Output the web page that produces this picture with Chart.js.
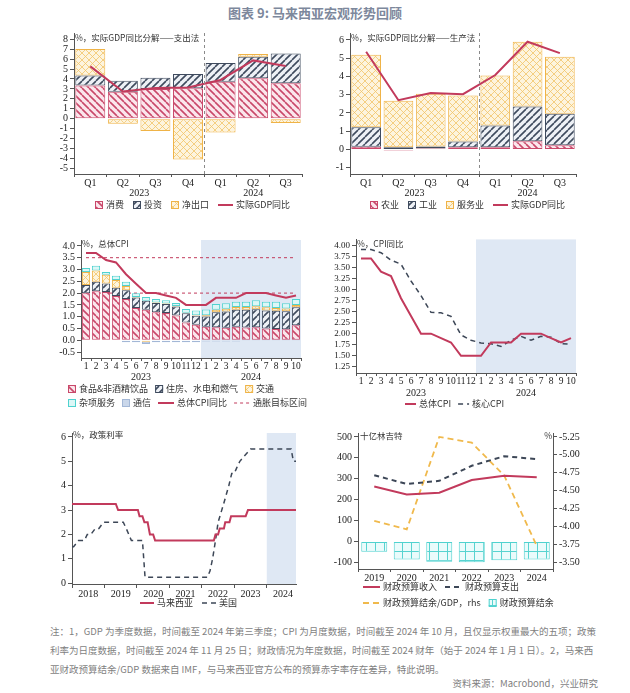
<!DOCTYPE html>
<html>
<head>
<meta charset="utf-8">
<script src="https://cdn.jsdelivr.net/npm/chart.js@4.4.1/dist/chart.umd.min.js"></script>
<style>
body { margin: 0; width: 630px; height: 693px; background: #fff; position: relative; overflow: hidden; font-family: "Noto Sans CJK SC", sans-serif; }
.title { position: absolute; left: 0; width: 630px; top: 3px; text-align: center; font-size: 13px; font-weight: bold; color: #7d889c; }
canvas { position: absolute; }
.note { position: absolute; left: 50px; font-size: 9.5px; color: #7f7f7f; white-space: nowrap; }
</style>
</head>
<body>
<div class="title">图表 9: 马来西亚宏观形势回顾</div>
<canvas id="c1" width="270" height="190" style="left:40px;top:25px"></canvas>
<canvas id="c2" width="270" height="190" style="left:330px;top:25px"></canvas>
<canvas id="c3" width="270" height="180" style="left:40px;top:232px"></canvas>
<canvas id="c4" width="270" height="180" style="left:330px;top:232px"></canvas>
<canvas id="c5" width="270" height="187" style="left:40px;top:425px"></canvas>
<canvas id="c6" width="270" height="187" style="left:330px;top:425px"></canvas>
<div class="note" style="top:624px">注：1，GDP 为季度数据，时间截至 2024 年第三季度；CPI 为月度数据，时间截至 2024 年 10 月，且仅显示权重最大的五项；政策</div>
<div class="note" style="top:643px">利率为日度数据，时间截至 2024 年 11 月 25 日；财政情况为年度数据，时间截至 2024 财年（始于 2024 年 1 月 1 日）。2，马来西</div>
<div class="note" style="top:662px">亚财政预算结余/GDP 数据来自 IMF，与马来西亚官方公布的预算赤字率存在差异，特此说明。</div>
<div class="note" style="top:676px;left:auto;right:32px">资料来源：Macrobond，兴业研究</div>
<script>
// --- data ---
var quarters = ['Q1', 'Q2', 'Q3', 'Q4', 'Q1', 'Q2', 'Q3'];
var expCons = [3.35, 2.72, 3.0, 3.07, 3.73, 4.07, 3.57];
var expInv = [1.0, 1.1, 1.13, 1.43, 1.87, 2.17, 3.0];
var expNx = [2.67, -0.5, -1.23, -4.1, -1.4, 0.27, -0.43];
var gdpExp = [5.27, 2.73, 3.1, 3.15, 3.9, 5.87, 5.3];

var prodAgri = [0.15, -0.06, 0.06, 0.13, 0.13, 0.45, 0.24];
var prodInd = [1.07, 0.12, 0.1, 0.31, 1.19, 1.91, 1.72];
var prodSvc = [3.97, 2.55, 2.89, 2.52, 2.73, 3.54, 3.12];
var gdpProd = [5.35, 2.7, 3.1, 3.03, 4.08, 5.9, 5.28];

var months = ['1', '2', '3', '4', '5', '6', '7', '8', '9', '10', '11', '12', '1', '2', '3', '4', '5', '6', '7', '8', '9', '10'];
var cpiFood = [1.99, 2.08, 2.05, 1.88, 1.75, 1.37, 1.29, 1.19, 1.16, 1.05, 0.75, 0.66, 0.57, 0.55, 0.53, 0.57, 0.54, 0.55, 0.5, 0.48, 0.47, 0.64];
var cpiHousing = [0.35, 0.4, 0.36, 0.35, 0.37, 0.44, 0.39, 0.39, 0.38, 0.38, 0.4, 0.38, 0.44, 0.64, 0.69, 0.72, 0.75, 0.77, 0.76, 0.77, 0.76, 0.76];
var cpiTransport = [0.55, 0.48, 0.37, 0.33, 0.18, 0.03, -0.06, 0.02, 0.02, 0.02, 0.02, 0.02, 0.05, 0.1, 0.12, 0.12, 0.12, 0.12, 0.14, 0.12, 0.12, 0.1];
var cpiMisc = [0.17, 0.2, 0.11, 0.18, 0.18, 0.15, 0.16, 0.15, 0.14, 0.13, 0.16, 0.2, 0.24, 0.25, 0.23, 0.22, 0.22, 0.26, 0.23, 0.26, 0.22, 0.25];
var cpiComm = [-0.02, -0.02, -0.02, -0.02, -0.08, -0.08, -0.1, -0.08, -0.08, -0.08, -0.08, -0.08, -0.05, -0.05, -0.05, -0.05, -0.03, -0.03, -0.03, -0.03, -0.03, -0.03];
var cpiHeadline = [3.7, 3.7, 3.4, 3.3, 2.8, 2.4, 2.0, 2.0, 1.9, 1.8, 1.5, 1.5, 1.5, 1.8, 1.8, 1.8, 2.0, 2.0, 2.0, 1.9, 1.8, 1.9];
var cpiCore = [3.9, 3.9, 3.83, 3.66, 3.57, 3.19, 2.86, 2.48, 2.47, 2.39, 1.97, 1.85, 1.79, 1.77, 1.71, 1.85, 1.94, 1.85, 1.94, 1.92, 1.77, 1.76];
var targetHi = 3.5;
var targetLo = 2.0;

var oprPts = [[2018.0, 3.25], [2019.35, 3.25], [2019.42, 3.0], [2020.03, 3.0], [2020.08, 2.75], [2020.17, 2.75], [2020.23, 2.5], [2020.33, 2.5], [2020.4, 2.0], [2020.5, 2.0], [2020.56, 1.75], [2022.37, 1.75], [2022.42, 2.0], [2022.5, 2.0], [2022.55, 2.25], [2022.68, 2.25], [2022.72, 2.5], [2022.85, 2.5], [2022.9, 2.75], [2023.35, 2.75], [2023.42, 3.0], [2024.9, 3.0]];
var fedPts = [[2018.0, 1.5], [2018.05, 1.5], [2018.2, 1.75], [2018.38, 1.75], [2018.47, 2.0], [2018.58, 2.0], [2018.72, 2.25], [2018.83, 2.25], [2018.97, 2.5], [2019.58, 2.5], [2019.67, 2.25], [2019.75, 2.0], [2019.83, 1.75], [2020.17, 1.75], [2020.25, 0.25], [2022.17, 0.25], [2022.25, 0.5], [2022.33, 1.0], [2022.42, 1.75], [2022.5, 2.5], [2022.67, 3.25], [2022.83, 4.0], [2022.92, 4.5], [2023.0, 4.5], [2023.08, 4.75], [2023.17, 5.0], [2023.33, 5.25], [2023.5, 5.5], [2024.75, 5.5], [2024.82, 5.0], [2024.9, 5.0]];
var rateYears = [2018, 2019, 2020, 2021, 2022, 2023, 2024];

var fiscalYears = ['2019', '2020', '2021', '2022', '2023', '2024'];
var fiscRevenue = [263, 225, 233, 294, 314, 307];
var fiscSpend = [317, 275, 290, 362, 408, 394];
var fiscBalGdp = [-4.08, -3.96, -5.25, -5.17, -4.71, -3.73];
var fiscBal = [-50, -87, -97, -100, -90, -87];

var ticksGdpExp = [-5, -4, -3, -2, -1, 0, 1, 2, 3, 4, 5, 6, 7, 8];
var ticksGdpProd = [-1, 0, 1, 2, 3, 4, 5, 6];
var ticksCpi = [-0.5, 0, 0.5, 1, 1.5, 2, 2.5, 3, 3.5, 4];
var ticksCpiYoy = [1.25, 1.5, 1.75, 2, 2.25, 2.5, 2.75, 3, 3.25, 3.5, 3.75, 4];
var ticksRate = [0, 1, 2, 3, 4, 5, 6];
var ticksFiscL = [-100, 0, 100, 200, 300, 400, 500];
var ticksFiscR = [-5.25, -5, -4.75, -4.5, -4.25, -4, -3.75, -3.5];

// --- styles ---
var RED = '#c23a5c', DARK = '#3d4757', ORANGE = '#f0b94c', CYAN = '#4fd2cf';
var AX = '#555', TXT = '#222', SHADE = '#dfe8f4';
Chart.defaults.font.family = 'Liberation Serif';

function pattern(bg, fg, lw, s, kind) {
    var c = document.createElement('canvas');
    c.width = c.height = s;
    var g = c.getContext('2d');
    g.fillStyle = bg;
    g.fillRect(0, 0, s, s);
    g.strokeStyle = fg;
    g.lineWidth = lw;
    g.beginPath();
    [-s, 0, s].forEach(function(k) {
        if (kind === 'back' || kind === 'cross') { g.moveTo(k, 0); g.lineTo(k + s, s); }
        if (kind === 'fwd' || kind === 'cross') { g.moveTo(k + s, 0); g.lineTo(k, s); }
    });
    if (kind === 'grid') { g.moveTo(0, 0.5); g.lineTo(s, 0.5); g.moveTo(0.5, 0); g.lineTo(0.5, s); }
    g.stroke();
    return g.createPattern(c, 'repeat');
}
var redHatch = pattern('#fbe6ec', '#c9486a', 1.6, 7, 'back');
var darkHatch = pattern('#eef1f6', '#3f4b5e', 1.6, 7, 'fwd');
var orangeX = pattern('#fdf4de', '#f1c46a', 0.8, 7, 'cross');
var cyanGrid = pattern('#eafbfb', '#57d3d0', 1, 9, 'grid');

function serif(size) { return { family: 'Liberation Serif', size: size }; }

function yAxis(min, max, ticks, width, digits, extra, fontSize) {
    return Object.assign({
        min: min, max: max,
        afterBuildTicks: function(s) { s.ticks = ticks.map(function(v) { return { value: v }; }); },
        afterFit: function(s) { s.width = width; },
        grid: { drawOnChartArea: false, tickLength: 4, color: AX },
        border: { color: AX },
        ticks: { font: serif(fontSize || 10), color: TXT, padding: 2, autoSkip: false,
            callback: function(v) { return v.toFixed(digits); } }
    }, extra || {});
}

function xCat(height, extra, fontSize) {
    return Object.assign({
        afterFit: function(s) { s.height = height; },
        grid: { drawOnChartArea: false, tickLength: 3, color: AX, offset: true },
        border: { color: AX },
        ticks: { font: serif(fontSize || 10), color: TXT, padding: 0, autoSkip: false, maxRotation: 0 }
    }, extra || {});
}

function opts(pad, scales) {
    return {
        responsive: false,
        animation: false,
        layout: { padding: pad },
        plugins: { legend: { display: false }, tooltip: { enabled: false } },
        scales: scales
    };
}

// extras drawn on top of each chart: shaded period, separator, year labels, axis notes and legend
function deco(cfg) {
    return {
        id: 'deco',
        beforeDraw: function(chart) {
            if (cfg.shade == null) return;
            var ctx = chart.ctx, a = chart.chartArea, x = chart.scales.x;
            var px = cfg.shadeLinear ? x.getPixelForValue(cfg.shade)
                : (x.getPixelForValue(cfg.shade - 1) + x.getPixelForValue(cfg.shade)) / 2;
            ctx.save();
            ctx.fillStyle = SHADE;
            ctx.fillRect(px, a.top, a.right - px, a.bottom - a.top);
            ctx.restore();
        },
        afterDraw: function(chart) {
            var ctx = chart.ctx, a = chart.chartArea, x = chart.scales.x;
            ctx.save();
            if (cfg.vline != null) {
                var vx = Math.round((x.getPixelForValue(cfg.vline - 1) + x.getPixelForValue(cfg.vline)) / 2) + 0.5;
                ctx.strokeStyle = '#8a8a8a';
                ctx.lineWidth = 1;
                ctx.setLineDash([3, 3]);
                ctx.beginPath(); ctx.moveTo(vx, a.top); ctx.lineTo(vx, a.bottom); ctx.stroke();
                ctx.setLineDash([]);
            }
            ctx.textBaseline = 'middle';
            if (cfg.years) {
                ctx.font = '10px "Liberation Serif"';
                ctx.fillStyle = TXT;
                ctx.textAlign = 'center';
                cfg.years.forEach(function(y) {
                    ctx.fillText(y[0], (x.getPixelForValue(y[1]) + x.getPixelForValue(y[2])) / 2, a.bottom + cfg.yearDy);
                });
            }
            ctx.font = '8.5px "Noto Sans CJK SC"';
            ctx.fillStyle = '#333';
            (cfg.notes || []).forEach(function(n) {
                ctx.textAlign = n[3] || 'left';
                ctx.fillText(n[0], n[1], n[2]);
            });
            var lg = cfg.legend;
            if (lg) {
                ctx.font = '9px "Noto Sans CJK SC"';
                ctx.textAlign = 'left';
                lg.rows.forEach(function(row, r) {
                    var px = lg.x, y = lg.y + r * (lg.rowGap || 0);
                    row.forEach(function(i) {
                        var ds = chart.data.datasets[i];
                        var isLine = ds.type === 'line' || (!ds.type && chart.config.type === 'line');
                        if (isLine) {
                            ctx.strokeStyle = ds.borderColor;
                            ctx.lineWidth = ds.borderWidth || 2;
                            ctx.setLineDash(ds.borderDash || []);
                            ctx.beginPath(); ctx.moveTo(px, y); ctx.lineTo(px + lg.lineLen, y); ctx.stroke();
                            ctx.setLineDash([]);
                            px += lg.lineLen + 3;
                        } else {
                            ctx.fillStyle = ds.backgroundColor;
                            ctx.fillRect(px, y - 4, 8, 8);
                            ctx.strokeStyle = ds.borderColor;
                            ctx.lineWidth = 1;
                            ctx.strokeRect(px + 0.5, y - 3.5, 7, 7);
                            px += 11;
                        }
                        ctx.fillStyle = '#333';
                        ctx.fillText(ds.label.trim(), px, y);
                        px += ctx.measureText(ds.label.trim()).width + lg.gap;
                    });
                });
            }
            ctx.restore();
        }
    };
}

function barSet(label, data, bg, border, pct) {
    return { label: label, data: data, backgroundColor: bg, borderColor: border, borderWidth: 1,
        borderSkipped: false, barPercentage: pct || 0.92, categoryPercentage: 1, order: 2 };
}
function lineSet(label, data, color, width, dash, extra) {
    return Object.assign({ type: 'line', label: label, data: data, borderColor: color, borderWidth: width,
        borderDash: dash || [], pointRadius: 0, fill: false, tension: 0, order: 0, stack: label }, extra || {});
}

// --- chart 1: GDP by expenditure ---
new Chart(document.getElementById('c1'), {
    type: 'bar',
    data: {
        labels: quarters,
        datasets: [
            lineSet('实际GDP同比', gdpExp, RED, 2),
            barSet('消费', expCons, redHatch, '#c9486a'),
            barSet('投资', expInv, darkHatch, '#3f4b5e'),
            barSet('净出口', expNx, orangeX, '#efb347')
        ]
    },
    options: opts({ left: 0, right: 8, top: 7, bottom: 11 }, {
        x: xCat(30, { stacked: true }),
        y: yAxis(-5.57, 8.63, ticksGdpExp, 34, 0, { stacked: true })
    }),
    plugins: [deco({
        vline: 4, years: [['2023', 0, 3], ['2024', 4, 6]], yearDy: 19,
        notes: [['%，实际GDP同比分解——支出法', 35, 13]],
        legend: { rows: [[1, 2, 3, 0]], x: 55, y: 180, gap: 9, lineLen: 15 }
    })]
});

// --- chart 2: GDP by production ---
new Chart(document.getElementById('c2'), {
    type: 'bar',
    data: {
        labels: quarters,
        datasets: [
            lineSet('实际GDP同比', gdpProd, RED, 2),
            barSet('农业', prodAgri, redHatch, '#c9486a'),
            barSet('工业', prodInd, darkHatch, '#3f4b5e'),
            barSet('服务业', prodSvc, orangeX, '#efb347')
        ]
    },
    options: opts({ left: 0, right: 24, top: 7, bottom: 11 }, {
        x: xCat(30, { stacked: true }),
        y: yAxis(-1.34, 6.38, ticksGdpProd, 20, 0, { stacked: true })
    }),
    plugins: [deco({
        vline: 4, years: [['2023', 0, 3], ['2024', 4, 6]], yearDy: 19,
        notes: [['%，实际GDP同比分解——生产法', 21, 13]],
        legend: { rows: [[1, 2, 3, 0]], x: 40, y: 180, gap: 9, lineLen: 15 }
    })]
});

// --- chart 3: CPI components ---
var hiBand = months.map(function() { return targetHi; });
var loBand = months.map(function() { return targetLo; });
new Chart(document.getElementById('c3'), {
    type: 'bar',
    data: {
        labels: months,
        datasets: [
            lineSet('总体CPI同比', cpiHeadline, RED, 2),
            lineSet('通胀目标区间', hiBand, RED, 1, [3, 3], { order: 3 }),
            lineSet('通胀目标区间 ', loBand, RED, 1, [3, 3], { order: 3 }),
            barSet('食品&非酒精饮品', cpiFood, redHatch, '#c9486a', 0.82),
            barSet('住房、水电和燃气', cpiHousing, darkHatch, '#3f4b5e', 0.82),
            barSet('交通', cpiTransport, orangeX, '#efb347', 0.82),
            barSet('杂项服务', cpiMisc, '#dcf7f6', CYAN, 0.82),
            barSet('通信', cpiComm, '#cad7ea', '#a3b7d6', 0.82)
        ]
    },
    options: opts({ left: 0, right: 9, top: 6, bottom: 24 }, {
        x: xCat(30, { stacked: true }, 9.5),
        y: yAxis(-0.75, 4.25, ticksCpi, 41, 1, { stacked: true })
    }),
    plugins: [deco({
        shade: 12, years: [['2023', 0, 11], ['2024', 12, 21]], yearDy: 19,
        notes: [['%，总体CPI', 42, 12]],
        legend: { rows: [[3, 4, 5], [6, 7, 0, 1]], x: 28, y: 157, rowGap: 14, gap: 7, lineLen: 16 }
    })]
});

// --- chart 4: headline vs core CPI ---
new Chart(document.getElementById('c4'), {
    type: 'line',
    data: {
        labels: months,
        datasets: [
            lineSet('总体CPI', cpiHeadline, RED, 2),
            lineSet('核心CPI', cpiCore, DARK, 1.5, [5, 4], { order: 1 })
        ]
    },
    options: opts({ left: 0, right: 24, top: 6, bottom: 9 }, {
        x: xCat(30, { offset: true }, 9.5),
        y: yAxis(1.11, 4.13, ticksCpiYoy, 26, 2, null, 9)
    }),
    plugins: [deco({
        shade: 12, years: [['2023', 0, 11], ['2024', 12, 21]], yearDy: 20,
        notes: [['%，CPI同比', 27, 12]],
        legend: { rows: [[0, 1]], x: 75, y: 172, gap: 7, lineLen: 11 }
    })]
});

// --- chart 5: policy rates ---
new Chart(document.getElementById('c5'), {
    type: 'line',
    data: {
        datasets: [
            lineSet('马来西亚', oprPts, RED, 2),
            lineSet('美国', fedPts, DARK, 1.5, [5, 4], { order: 1 })
        ]
    },
    options: opts({ left: 0, right: 14, top: 6, bottom: 8 }, {
        x: {
            type: 'linear', min: 2018, max: 2024.9,
            afterBuildTicks: function(s) {
                s.ticks = [];
                rateYears.forEach(function(y) { s.ticks.push({ value: y }); s.ticks.push({ value: y + 0.5 }); });
            },
            afterFit: function(s) { s.height = 20; },
            grid: { drawOnChartArea: false, tickLength: 4,
                color: function(c) { return c.tick && c.tick.value % 1 ? 'rgba(0,0,0,0)' : AX; } },
            border: { color: AX },
            ticks: { font: serif(10), color: TXT, padding: 0, autoSkip: false, maxRotation: 0,
                callback: function(v) { return v % 1 ? String(Math.floor(v)) : ''; } }
        },
        y: yAxis(-0.03, 6.16, ticksRate, 32, 0)
    }),
    plugins: [deco({
        shade: 2024, shadeLinear: true,
        notes: [['%，政策利率', 33, 10]],
        legend: { rows: [[0, 1]], x: 100, y: 178, gap: 9, lineLen: 14 }
    })]
});

// --- chart 6: fiscal ---
new Chart(document.getElementById('c6'), {
    type: 'bar',
    data: {
        labels: fiscalYears,
        datasets: [
            lineSet('财政预算收入', fiscRevenue, RED, 2),
            lineSet('财政预算支出', fiscSpend, DARK, 2, [5, 4]),
            lineSet('财政预算结余/GDP，rhs', fiscBalGdp, ORANGE, 1.8, [6, 4], { yAxisID: 'y2' }),
            barSet('财政预算结余', fiscBal, cyanGrid, CYAN, 0.8)
        ]
    },
    options: opts({ left: 0, right: 2, top: 7, bottom: 27 }, {
        x: xCat(16),
        y: yAxis(-132, 519, ticksFiscL, 28, 0),
        y2: yAxis(-5.305, -3.407, ticksFiscR, 45, 2, { position: 'right', reverse: true })
    }),
    plugins: [deco({
        notes: [['十亿林吉特', 30, 11], ['%', 222, 11, 'right']],
        legend: { rows: [[0, 1], [2, 3]], x: 33, y: 162, rowGap: 16, gap: 8, lineLen: 17 }
    })]
});
</script>
</body>
</html>
